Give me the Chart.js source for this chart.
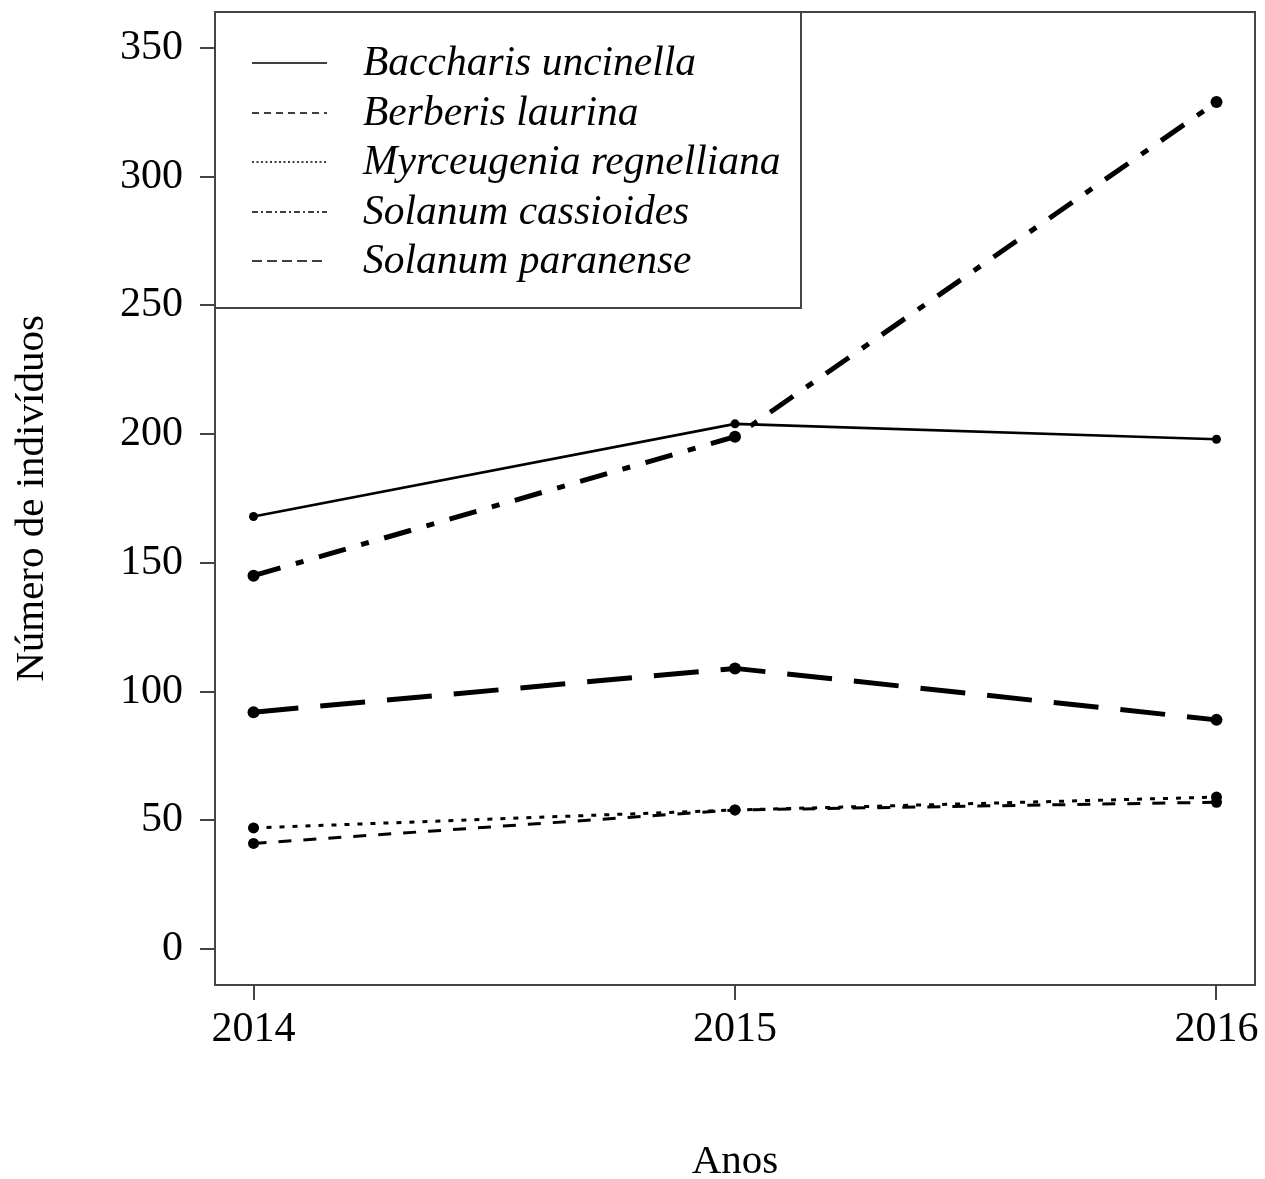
<!DOCTYPE html>
<html>
<head>
<meta charset="utf-8">
<script src="https://cdn.jsdelivr.net/npm/chart.js@4"></script>
<style>
html,body{margin:0;padding:0;background:#fff;}
canvas{display:block;}
</style>
</head>
<body>
<canvas id="c" width="1265" height="1179"></canvas>
<script>
const years = [2014, 2015, 2016];
const yTicks = [0, 50, 100, 150, 200, 250, 300, 350];
const speciesNames = ["Baccharis uncinella", "Berberis laurina", "Myrceugenia regnelliana", "Solanum cassioides", "Solanum paranense"];
const baccharis = [168, 204, 198];
const berberis = [41, 54, 57];
const myrceugenia = [47, 54, 59];
const cassioides = [145, 199, 329];
const paranense = [92, 109, 89];

const seriesValues = [baccharis, berberis, myrceugenia, cassioides, paranense];
const styles = [
  {w: 2.6, dash: [], r: 4.5, legDash: []},
  {w: 3, dash: [13, 12], r: 5.5, legDash: [7, 5]},
  {w: 3, dash: [5, 8], r: 5.5, legDash: [2, 2.5]},
  {w: 5, dash: [28, 16, 8, 16], r: 6, legDash: [6, 3, 2, 3]},
  {w: 5, dash: [45, 22], r: 6, legDash: [10, 5]}
];

const datasets = seriesValues.map((vals, i) => ({
  label: speciesNames[i],
  data: years.map((yr, j) => ({x: yr, y: vals[j]})),
  borderColor: '#000',
  backgroundColor: '#000',
  borderWidth: styles[i].w,
  borderDash: styles[i].dash,
  pointRadius: styles[i].r,
  pointBorderWidth: 0,
  pointBackgroundColor: '#000',
  tension: 0,
  fill: false
}));

const FONT = "'Liberation Serif', 'Times New Roman', serif";

const frame = {
  id: 'frame',
  afterDraw(chart) {
    const {ctx, chartArea: a} = chart;
    ctx.save();
    // legend box
    const lx = a.left, ly = a.top, lw = 801 - a.left, lh = 308 - a.top;
    ctx.fillStyle = '#fff';
    ctx.fillRect(lx, ly, lw, lh);
    ctx.strokeStyle = '#444';
    ctx.lineWidth = 2;
    ctx.strokeRect(lx, ly, lw, lh);
    const rowY = [63, 113, 162, 212, 261];
    ctx.font = 'italic 41.5px ' + FONT;
    ctx.textBaseline = 'middle';
    ctx.textAlign = 'left';
    for (let i = 0; i < speciesNames.length; i++) {
      ctx.strokeStyle = '#000';
      ctx.lineWidth = 1.5;
      ctx.setLineDash(styles[i].legDash);
      ctx.beginPath();
      ctx.moveTo(252, rowY[i]);
      ctx.lineTo(327, rowY[i]);
      ctx.stroke();
      ctx.setLineDash([]);
      ctx.fillStyle = '#000';
      ctx.fillText(speciesNames[i], 363, rowY[i] + 1);
    }
    // plot box
    ctx.strokeStyle = '#444';
    ctx.lineWidth = 2;
    ctx.strokeRect(a.left, a.top, a.right - a.left, a.bottom - a.top);
    ctx.restore();
  }
};

new Chart(document.getElementById('c'), {
  type: 'line',
  data: {datasets},
  options: {
    responsive: false,
    animation: false,
    devicePixelRatio: 1,
    layout: {padding: {left: 0, right: 10, top: 12, bottom: 0}},
    plugins: {legend: {display: false}, tooltip: {enabled: false}},
    scales: {
      x: {
        type: 'linear',
        min: 2014 - 0.08,
        max: 2016 + 0.08,
        afterBuildTicks: s => { s.ticks = years.map(v => ({value: v})); },
        afterFit: s => { s.height = 194; s.paddingLeft = 0; s.paddingRight = 0; },
        grid: {display: true, drawOnChartArea: false, drawTicks: true, tickLength: 15, color: '#444', lineWidth: 2},
        border: {display: false},
        ticks: {color: '#000', font: {family: FONT, size: 42}, padding: 5, maxRotation: 0, autoSkip: false, callback: v => String(v)},
        title: {display: true, text: 'Anos', color: '#000', font: {family: FONT, size: 41, lineHeight: 0.8}, padding: {top: 0, bottom: 0}}
      },
      y: {
        type: 'linear',
        min: -14,
        max: 364,
        afterBuildTicks: s => { s.ticks = yTicks.map(v => ({value: v})); },
        afterFit: s => { s.width = 215; s.paddingTop = 0; s.paddingBottom = 0; },
        grid: {display: true, drawOnChartArea: false, drawTicks: true, tickLength: 15, color: '#444', lineWidth: 2},
        border: {display: false},
        ticks: {color: '#000', font: {family: FONT, size: 42}, padding: 17, autoSkip: false, callback: v => String(v)},
        title: {display: true, text: 'Número de indivíduos', color: '#000', font: {family: FONT, size: 41}, padding: {top: 8, bottom: 0}}
      }
    }
  },
  plugins: [frame]
});
</script>
</body>
</html>
